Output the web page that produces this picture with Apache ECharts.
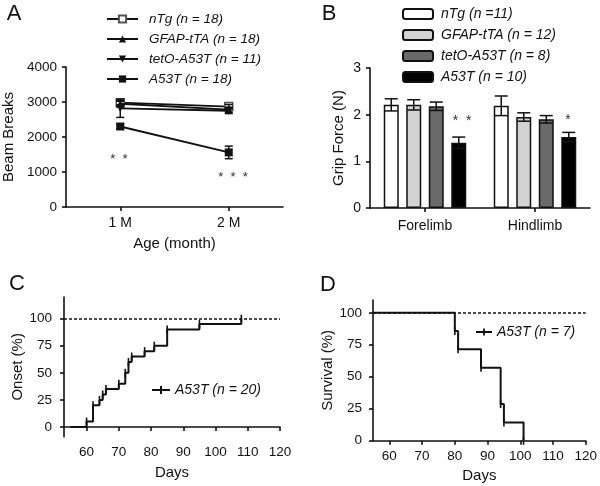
<!DOCTYPE html>
<html>
<head>
<meta charset="utf-8">
<script src="https://cdn.jsdelivr.net/npm/echarts@6/dist/echarts.min.js"></script>
<style>
  html, body { margin: 0; padding: 0; background: #fff; }
  #chart { width: 600px; height: 486px; }
</style>
</head>
<body>
<div id="chart"></div>
<script>
// A - beam breaks
const ageLabels = ['1 M', '2 M']
const beamNames = ['nTg (n = 18)', 'GFAP-tTA (n = 18)', 'tetO-A53T (n = 11)', 'A53T (n = 18)']
const beamMean = [[2980, 2870], [2950, 2780], [2820, 2750], [2300, 1560]]
const beamSem = [[60, 60], [70, 70], [260, 80], [70, 180]]

// B - grip force
const limbs = ['Forelimb', 'Hindlimb']
const gripNames = ['nTg (n =11)', 'GFAP-tTA (n = 12)', 'tetO-A53T (n = 8)', 'A53T (n = 10)']
const gripMean = [[2.21, 2.19], [2.21, 1.95], [2.18, 1.90], [1.40, 1.52]]
const gripSem = [[0.13, 0.21], [0.11, 0.09], [0.09, 0.08], [0.12, 0.1]]

// C - onset
const onsetName = 'A53T (n = 20)'
const onsetDays = [55, 60, 62, 64, 65, 66, 70, 72, 73, 74, 78, 81, 85, 95, 108]
const onsetPct = [0, 5, 20, 25, 30, 35, 40, 50, 60, 65, 70, 75, 90, 95, 100]

// D - survival
const survName = 'A53T (n = 7)'
const survDays = [55, 80, 81, 88, 94, 95, 101]
const survPct = [100, 85.7, 71.4, 57.1, 28.6, 14.3, 0]

const pctTicks = [0, 25, 50, 75, 100]
const dayTicks = [60, 70, 80, 90, 100, 110, 120]

const ink = '#111'
const font = 'Liberation Sans, Arial, sans-serif'
const axisLine = { show: true, lineStyle: { color: ink, width: 1.6 } }
const axisTick = { show: true, inside: false, length: 4, lineStyle: { color: ink, width: 1.6 } }

function yAxis(grid, extra) {
  return Object.assign({
    gridIndex: grid,
    type: 'value',
    splitLine: { show: false },
    axisLine: axisLine,
    axisTick: axisTick,
    nameLocation: 'middle',
    nameRotate: 90,
    nameTextStyle: { fontFamily: font, fontSize: 15, color: ink }
  }, extra)
}
function xAxis(grid, extra) {
  return Object.assign({
    gridIndex: grid,
    splitLine: { show: false },
    axisLine: axisLine,
    axisTick: axisTick,
    nameLocation: 'middle',
    nameTextStyle: { fontFamily: font, fontSize: 15, color: ink }
  }, extra)
}
const numLabel = (size, margin) => ({ fontFamily: font, fontSize: size, color: ink, margin: margin, formatter: v => String(v) })

// error bar drawn through the axes, offset sideways for grouped bars
function errorBars(grid, mean, sem, offset, cap) {
  return {
    type: 'custom',
    xAxisIndex: grid,
    yAxisIndex: grid,
    z: 5,
    silent: true,
    encode: { x: 0, y: [1, 2] },
    data: mean.map((m, i) => [i, m - sem[i], m + sem[i]]),
    renderItem(params, api) {
      const hi = api.coord([api.value(0), api.value(2)])
      const lo = api.coord([api.value(0), api.value(1)])
      const cx = hi[0] + offset
      const st = { stroke: ink, lineWidth: 1.5 }
      return {
        type: 'group',
        children: [
          { type: 'line', shape: { x1: cx, y1: hi[1], x2: cx, y2: lo[1] }, style: st },
          { type: 'line', shape: { x1: cx - cap, y1: hi[1], x2: cx + cap, y2: hi[1] }, style: st },
          { type: 'line', shape: { x1: cx - cap, y1: lo[1], x2: cx + cap, y2: lo[1] }, style: st }
        ]
      }
    }
  }
}

const beamSymbols = ['rect', 'triangle', 'path://M0,0 L10,0 L5,9 Z', 'rect']
const beamFill = ['#fff', ink, ink, ink]
const beamBorder = ['#555', ink, ink, ink]

const gripColors = ['#ffffff', '#d2d2d2', '#6a6a6a', '#000000']
const barWidth = 15
const barGapRatio = 0.5

const series = []
beamNames.forEach((name, k) => {
  series.push({
    name: name,
    type: 'line',
    xAxisIndex: 0,
    yAxisIndex: 0,
    data: beamMean[k],
    symbol: beamSymbols[k],
    symbolSize: 8,
    lineStyle: { color: ink, width: 1.8 },
    itemStyle: { color: beamFill[k], borderColor: beamBorder[k], borderWidth: k === 0 ? 1.5 : 0 },
    z: 3 + k
  })
  series.push(errorBars(0, beamMean[k], beamSem[k], 0, 4))
})
gripNames.forEach((name, k) => {
  series.push({
    name: name,
    type: 'bar',
    xAxisIndex: 1,
    yAxisIndex: 1,
    data: gripMean[k],
    barWidth: barWidth,
    barGap: barGapRatio * 100 + '%',
    itemStyle: { color: gripColors[k], borderColor: ink, borderWidth: 1.5 }
  })
  const offset = (k - 1.5) * barWidth * (1 + barGapRatio)
  series.push(errorBars(1, gripMean[k], gripSem[k], offset, 6.5))
})

const tickMark = { symbol: 'rect', symbolSize: [1.6, 8] }
const dashed100 = {
  silent: true, symbol: 'none', label: { show: false },
  lineStyle: { color: ink, width: 1.5, type: [3, 2] },
  data: [{ yAxis: 100 }]
}
series.push({
  name: onsetName,
  type: 'line',
  step: 'end',
  xAxisIndex: 2,
  yAxisIndex: 2,
  data: onsetDays.map((d, i) => i === 0 ? { value: [d, onsetPct[i]], symbol: 'none' } : [d, onsetPct[i]]),
  symbol: tickMark.symbol,
  symbolSize: tickMark.symbolSize,
  itemStyle: { color: ink },
  lineStyle: { color: ink, width: 2 },
  markLine: dashed100
})
series.push({
  name: survName,
  type: 'line',
  step: 'end',
  xAxisIndex: 3,
  yAxisIndex: 3,
  data: survDays.map((d, i) => i === 0 ? { value: [d, survPct[i]], symbol: 'none' } : [d, survPct[i]]),
  symbol: tickMark.symbol,
  symbolSize: tickMark.symbolSize,
  itemStyle: { color: ink },
  lineStyle: { color: ink, width: 2 },
  z: 3,
  markLine: dashed100
})

const legendText = (size, pad) => ({ fontFamily: font, fontSize: size, fontStyle: 'italic', color: ink, padding: [0, 0, 0, pad] })
// a short line with a small upright tick, as drawn in the curve legends
const tickLineIcon = 'path://M0,3 h18 v2 h-18 Z M8,0 h2 v8 h-2 Z'

const option = {
  animation: false,
  backgroundColor: '#fff',
  grid: [
    { left: 66, top: 67, width: 217, height: 140 },
    { left: 370, top: 68, width: 220, height: 140 },
    { left: 64, top: 297, width: 216, height: 139.7 },
    { left: 373, top: 300, width: 216, height: 140.7 }
  ],
  xAxis: [
    xAxis(0, {
      type: 'category', data: ageLabels, boundaryGap: true,
      axisTick: Object.assign({}, axisTick, { alignWithLabel: true }),
      axisLabel: numLabel(14, 9),
      name: 'Age (month)', nameGap: 29
    }),
    xAxis(1, {
      type: 'category', data: limbs, boundaryGap: true,
      axisTick: Object.assign({}, axisTick, { alignWithLabel: true }),
      axisLabel: numLabel(14, 11)
    }),
    xAxis(2, {
      type: 'value', min: 53, max: 120,
      axisTick: Object.assign({}, axisTick, { customValues: dayTicks }),
      axisLabel: Object.assign(numLabel(13.5, 9), { customValues: dayTicks }),
      name: 'Days', nameGap: 29
    }),
    xAxis(3, {
      type: 'value', min: 55, max: 120,
      axisTick: Object.assign({}, axisTick, { customValues: dayTicks }),
      axisLabel: Object.assign(numLabel(13.5, 9), { customValues: dayTicks }),
      name: 'Days', nameGap: 28
    })
  ],
  yAxis: [
    yAxis(0, { min: 0, max: 4000, interval: 1000, axisLabel: numLabel(13.5, 9), name: 'Beam Breaks', nameGap: 50 }),
    yAxis(1, { min: 0, max: 3, interval: 1, axisLabel: numLabel(14, 9), name: 'Grip Force (N)', nameGap: 24 }),
    yAxis(2, {
      min: -9, max: 120,
      axisTick: Object.assign({}, axisTick, { customValues: pctTicks }),
      axisLabel: Object.assign(numLabel(13.5, 12), { customValues: pctTicks }),
      name: 'Onset (%)', nameGap: 34
    }),
    yAxis(3, {
      min: 0, max: 110,
      axisTick: Object.assign({}, axisTick, { customValues: pctTicks }),
      axisLabel: Object.assign(numLabel(13.5, 11), { customValues: pctTicks }),
      name: 'Survival (%)', nameGap: 35
    })
  ],
  legend: [
    {
      data: beamNames, orient: 'vertical', left: 106, top: 12, padding: 0,
      itemWidth: 31, itemHeight: 9, itemGap: 6,
      textStyle: legendText(13.5, 6), selectedMode: false
    },
    {
      data: gripNames, orient: 'vertical', left: 402, top: 7, padding: 0,
      itemWidth: 30, itemHeight: 10, itemGap: 7,
      textStyle: legendText(14, 3), selectedMode: false
    },
    {
      data: [{ name: onsetName, icon: tickLineIcon }], left: 152, top: 383, padding: 0,
      itemWidth: 18, itemHeight: 8,
      textStyle: legendText(14, 0), selectedMode: false
    },
    {
      data: [{ name: survName, icon: tickLineIcon }], left: 476, top: 325, padding: 0,
      itemWidth: 16, itemHeight: 8,
      textStyle: legendText(14, 0), selectedMode: false
    }
  ],
  graphic: [
    { type: 'text', x: 14, y: 14, style: { text: 'A', font: '22px ' + font, fill: ink, textAlign: 'center', textVerticalAlign: 'middle' } },
    { type: 'text', x: 329, y: 14, style: { text: 'B', font: '22px ' + font, fill: ink, textAlign: 'center', textVerticalAlign: 'middle' } },
    { type: 'text', x: 17, y: 284, style: { text: 'C', font: '22px ' + font, fill: ink, textAlign: 'center', textVerticalAlign: 'middle' } },
    { type: 'text', x: 328, y: 285, style: { text: 'D', font: '22px ' + font, fill: ink, textAlign: 'center', textVerticalAlign: 'middle' } },
    { type: 'text', x: 119, y: 159, style: { text: '*  *', font: '13px ' + font, fill: '#333', textAlign: 'center', textVerticalAlign: 'middle' } },
    { type: 'text', x: 233, y: 177, style: { text: '*  *  *', font: '13px ' + font, fill: '#333', textAlign: 'center', textVerticalAlign: 'middle' } },
    { type: 'text', x: 462, y: 121, style: { text: '*  *', font: '14px ' + font, fill: '#333', textAlign: 'center', textVerticalAlign: 'middle' } },
    { type: 'text', x: 568, y: 120, style: { text: '*', font: '14px ' + font, fill: '#333', textAlign: 'center', textVerticalAlign: 'middle' } }
  ],
  series: series
}

const chart = echarts.init(document.getElementById('chart'))
chart.setOption(option)
</script>
</body>
</html>
